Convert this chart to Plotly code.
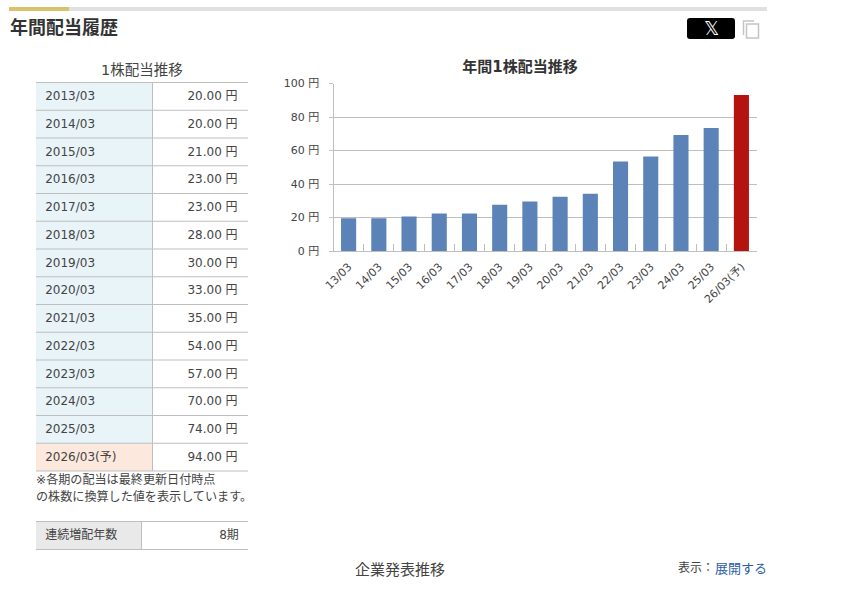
import plotly.graph_objects as go

W, H = 851, 616
FONT = "DejaVu Sans, Noto Sans CJK JP, sans-serif"
TEXT = "#444444"
LINE = "#bfbfbf"

# table values
periods = ["2013/03", "2014/03", "2015/03", "2016/03", "2017/03", "2018/03", "2019/03",
           "2020/03", "2021/03", "2022/03", "2023/03", "2024/03", "2025/03", "2026/03(予)"]
dividends = ["20.00 円", "20.00 円", "21.00 円", "23.00 円", "23.00 円", "28.00 円", "30.00 円",
             "33.00 円", "35.00 円", "54.00 円", "57.00 円", "70.00 円", "74.00 円", "94.00 円"]

# chart values
bar_labels = ["13/03", "14/03", "15/03", "16/03", "17/03", "18/03", "19/03",
              "20/03", "21/03", "22/03", "23/03", "24/03", "25/03", "26/03(予)"]
bar_values = [19.5, 19.5, 20.6, 22.4, 22.4, 27.6, 29.5, 32.4, 34.2, 53.4, 56.4, 69.3, 73.5, 93.1]
y_ticks = [0, 20, 40, 60, 80, 100]
y_tick_labels = ["0 円", "20 円", "40 円", "60 円", "80 円", "100 円"]

streak_label = ["連続増配年数"]
streak_value = ["8期"]


def px(x):
    return x / W


def py(y):
    return 1 - y / H


def text(s, x, y, size=12, color=TEXT, anchor="left"):
    return dict(text=s, x=px(x), y=py(y), xref="paper", yref="paper", showarrow=False,
                xanchor=anchor, yanchor="middle", font=dict(size=size, color=color, family=FONT))


def rect(x0, y0, x1, y1, fill=None, line=None, width=1):
    return dict(type="rect", xref="paper", yref="paper", layer="above",
                x0=px(x0), x1=px(x1), y0=py(y0), y1=py(y1),
                fillcolor=fill or "rgba(0,0,0,0)",
                line=dict(color=line or "rgba(0,0,0,0)", width=width))


def hline(y, x0=36, x1=248):
    return dict(type="line", xref="paper", yref="paper", layer="above", x0=px(x0), x1=px(x1),
                y0=py(y), y1=py(y), line=dict(color=LINE, width=1))


def vline(x, y0, y1):
    return dict(type="line", xref="paper", yref="paper", layer="above", x0=px(x), x1=px(x),
                y0=py(y0), y1=py(y1), line=dict(color=LINE, width=1))


fig = go.Figure()

bar_colors = ["#5b83b8"] * (len(bar_values) - 1) + ["#b5130f"]
fig.add_trace(go.Bar(x=bar_labels, y=bar_values, marker=dict(color=bar_colors, line_width=0),
                     showlegend=False))

# dividend table
ROW = 27.75
TOP = 82.5
name_fill = ["#e8f4f8"] * (len(periods) - 1) + ["#fce8dc"]
fig.add_trace(go.Table(
    domain=dict(x=[px(36), px(248)], y=[py(TOP + 0.5 + ROW * len(periods)), py(TOP - 0.5)]),
    columnwidth=[116, 96],
    header=dict(values=["", ""], height=1, fill_color="rgba(0,0,0,0)", line_width=0),
    cells=dict(values=[periods, dividends], height=ROW, align=["left", "right"],
               prefix=["\u200a", ""], suffix=["", "\u200a"],
               fill_color=[name_fill, ["#ffffff"] * len(periods)],
               line=dict(width=0), font=dict(size=12, color=TEXT, family=FONT)),
))

# streak table
fig.add_trace(go.Table(
    domain=dict(x=[px(36), px(248)], y=[py(549.5), py(520.5)]),
    columnwidth=[105, 107],
    header=dict(values=["", ""], height=1, fill_color="rgba(0,0,0,0)", line_width=0),
    cells=dict(values=[streak_label, streak_value], height=28, align=["left", "right"],
               prefix=["\u200a", ""], suffix=["", "\u200a"],
               fill_color=[["#e9e9e9"], ["#ffffff"]],
               line=dict(width=0), font=dict(size=12, color=TEXT, family=FONT)),
))

shapes = [
    rect(9, 7, 69, 11, fill="#d9c36a"),
    rect(69, 7, 767, 11, fill="#e0e0e0"),
    # share button
    dict(type="path", xref="paper", yref="paper", layer="above", fillcolor="#000000",
         line=dict(width=0),
         path=" ".join([f"M {px(690)} {py(18)}", f"L {px(732)} {py(18)}",
                        f"Q {px(735)} {py(18)} {px(735)} {py(21)}", f"L {px(735)} {py(36)}",
                        f"Q {px(735)} {py(39)} {px(732)} {py(39)}", f"L {px(690)} {py(39)}",
                        f"Q {px(687)} {py(39)} {px(687)} {py(36)}", f"L {px(687)} {py(21)}",
                        f"Q {px(687)} {py(18)} {px(690)} {py(18)} Z"])),
    # copy icon
    dict(type="path", xref="paper", yref="paper", layer="above", line=dict(color="#c4c4c4", width=1.5),
         path=f"M {px(743.5)} {py(35)} L {px(743.5)} {py(21)} L {px(754)} {py(21)}"),
    rect(746.5, 24, 758.5, 38, line="#c4c4c4", width=1.5),
]
for i in range(len(periods) + 1):
    shapes.append(hline(TOP + ROW * i))
shapes.append(vline(152.5, TOP, TOP + ROW * len(periods)))
shapes += [hline(521.5), hline(549.5), vline(141.5, 521.5, 549.5)]

annotations = [
    text("<b>年間配当履歴</b>", 8, 28, size=18, color="#333333"),
    text("𝕏", 711, 28.5, size=19, color="#ffffff", anchor="center"),
    text("1株配当推移", 142, 70, size=14.5, anchor="center"),
    text("※各期の配当は最終更新日付時点", 34, 479.5, size=12.1),
    text("の株数に換算した値を表示しています。", 34, 496.5, size=12.1),
    text("企業発表推移", 400, 569.5, size=15, anchor="center"),
    text("表示：", 676, 567.5, size=12),
    text("展開する", 713, 568, size=13, color="#2a5ca8"),
]

fig.update_layout(
    width=W, height=H, margin=dict(l=0, r=0, t=0, b=0, autoexpand=False),
    paper_bgcolor="#ffffff", plot_bgcolor="#ffffff",
    font=dict(family=FONT, color=TEXT, size=11),
    title=dict(text="<b>年間1株配当推移</b>", x=px(520), y=py(67), xanchor="center", yanchor="middle",
               font=dict(size=15, color="#333333", family=FONT)),
    bargap=0.5, showlegend=False,
    shapes=shapes, annotations=annotations,
)
fig.update_xaxes(domain=[px(333.5), px(756.5)], type="category", tickson="boundaries", ticks="inside",
                 ticklen=7, tickcolor=LINE, tickangle=-45, showline=True, linecolor=LINE,
                 showgrid=False, ticklabelstandoff=4, tickfont=dict(size=11, color=TEXT, family=FONT))
fig.update_yaxes(domain=[py(251), py(83.5)], range=[0, 100], tickvals=y_ticks, ticktext=y_tick_labels,
                 ticks="outside", ticklen=4, tickcolor=LINE, showline=True, linecolor=LINE,
                 gridcolor=LINE, gridwidth=1, zeroline=False, ticklabelstandoff=7,
                 tickfont=dict(size=11, color=TEXT, family=FONT))

fig.write_html("out.html", config=dict(displayModeBar=False),
               post_script="document.body.style.margin='0';")
